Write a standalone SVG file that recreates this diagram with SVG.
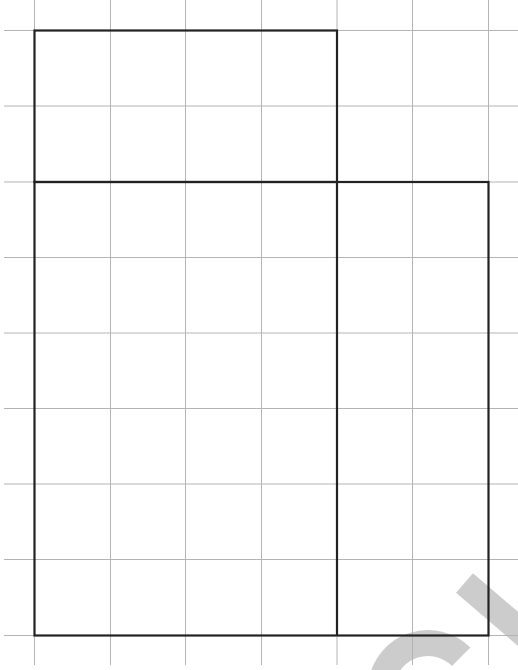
<svg xmlns="http://www.w3.org/2000/svg" width="518" height="670" viewBox="0 0 518 670">
<style>
.grid{stroke:#b4b4b4;stroke-width:1;fill:none}
.wm{stroke:#cccccc;stroke-width:26;fill:none;stroke-linecap:butt}
.thick{stroke:#222222;stroke-width:2.2;fill:none}
</style>
<rect width="518" height="670" fill="#ffffff"/>
<g id="watermark">
<path class="wm" d="M381.7,681.8 A47,47 0 0 1 461.2,656.8"/>
<line class="wm" x1="464.5" y1="583" x2="545" y2="652"/>
</g>
<g id="grid">
<path class="grid" d="M34.5,0V665M110.5,0V665M185.5,0V665M261.5,0V665M337,0V665M412.5,0V665M488.5,0V665"/>
<path class="grid" d="M4,30.5H518M4,106H518M4,182H518M4,257.5H518M4,333H518M4,408.5H518M4,484H518M4,559.5H518M4,635.5H518"/>
</g>
<g id="outline">
<rect id="top-block" class="thick" x="34.5" y="30.5" width="302.5" height="151.5"/>
<rect id="bottom-block" class="thick" x="34.5" y="182" width="454" height="453.5"/>
<line id="divider" class="thick" x1="337" y1="182" x2="337" y2="635.5"/>
</g>
</svg>
